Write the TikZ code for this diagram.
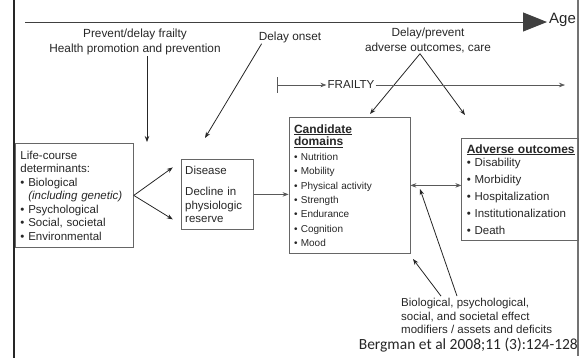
\documentclass[tikz,border=0pt]{standalone}
\usepackage{fontspec}
\setmainfont{Liberation Sans}
\newfontfamily\citefont{Carlito}
\usetikzlibrary{positioning,arrows.meta}

\tikzset{
	box/.style={draw=black!60, line width=0.8pt, anchor=north west, align=left, inner xsep=5pt, inner ysep=3pt, font=\fontsize{11.5}{13.5}\selectfont},
	note/.style={align=center, inner sep=1pt, font=\fontsize{11.8}{15}\selectfont},
	link/.style={->, line width=0.8pt, draw=black!85},
	faint/.style={line width=0.6pt, draw=black!65},
}
\newcommand{\bul}{\textbullet\ }
\newcommand{\boxhead}[1]{{\fontsize{12}{14}\selectfont\bfseries\underline{#1}}}

\begin{document}
\begin{tikzpicture}[x=1pt, y=-1pt, >={Stealth[length=6pt,width=4.5pt]}, text=black!85]
	\useasboundingbox (0,0) rectangle (582,360);
	
	\draw[line width=2.5pt, black!85] (14,0) -- (14,358);
	\draw[line width=1.2pt, black!55] (578,0) -- (578,356);
	
	\node[inner sep=1pt, anchor=west, font=\fontsize{15}{17}\selectfont] (age) at (548,20) {Age};
	\coordinate (axisstart) at (25,22);
	\draw[line width=1pt, black!75, -{Triangle[length=24pt,width=19pt]}, shorten >=1pt] (axisstart) -- (axisstart -| age.west);
	
	\node[note]                               (prevent) at (135,42) {Prevent/delay frailty\\Health promotion and prevention};
	\node[note]                               (onset) at (290,37) {Delay onset};
	\node[note]                               (delayprev) at (428,40) {Delay/prevent\\adverse outcomes, care};
	
	\node[note, font=\fontsize{11.6}{14}\selectfont]                               (frailty) at (351,85) {FRAILTY};
	\coordinate (fstart) at (277,85);
	\coordinate (fend) at (565,85);
	
	\node[box, text width=108pt, minimum height=104pt]                               (life) at (15,143) {Life-course\\determinants:\\\bul Biological\\\phantom{\bul}\textit{(including genetic)}\\\bul Psychological\\\bul Social, societal\\\bul Environmental};
	\node[box, right=47pt of life.north east, anchor=north west, yshift=-16pt, inner xsep=4pt, text width=64pt, minimum height=70pt]                               (disease) {Disease\\[8pt]Decline in\\physiologic\\reserve};
	\node[box, right=35pt of disease.north east, anchor=north west, yshift=42pt, text width=111pt, minimum height=136pt, font=\fontsize{10}{14.3}\selectfont]                               (cand) {\boxhead{Candidate}\\[-1.9pt]\boxhead{domains}\\[0.7pt]\bul Nutrition\\\bul Mobility\\\bul Physical activity\\\bul Strength\\\bul Endurance\\\bul Cognition\\\bul Mood};
	\node[box, right=51pt of cand.north east, anchor=north west, yshift=-21pt, text width=107pt, minimum height=102pt, font=\fontsize{11.5}{17}\selectfont]                               (adverse) {\boxhead{Adverse outcomes}\\[-3.7pt]\bul Disability\\\bul Morbidity\\\bul Hospitalization\\\bul Institutionalization\\\bul Death};
	
	\node[note, align=left, anchor=west, font=\fontsize{11.5}{13.5}\selectfont]                               (modifiers) at (400,316) {Biological, psychological,\\social, and societal effect\\modifiers / assets and deficits};
	\node[anchor=east, inner sep=0pt, font=\citefont\fontsize{15.5}{18}\selectfont]                               (cite) at (578,345) {Bergman et al 2008;11 (3):124-128};
	
	\coordinate (preventend) at (147,142);
	\coordinate (onsetend) at (205,138);
	\coordinate (candtop) at (370,114);
	\coordinate (advtop) at (465,115);
	\coordinate (cornerend) at (413,259);
	\coordinate (pairend) at (420,189);
	
	\draw[link] (preventend |- prevent.south) -- (preventend);
	\draw[link] ([xshift=4pt]onset.south west) -- (onsetend);
	\draw[link] ([xshift=-8pt]delayprev.south) -- (candtop);
	\draw[link] ([xshift=-8pt]delayprev.south) -- (advtop);
	
	\draw[faint] (fstart) ++(0,-8) -- ++(0,16);
	\draw[faint, ->] (fstart) -- (frailty.west);
	\draw[faint, ->] (frailty.east) -- (fend);
	
	\draw[link] (life.east) -- ([shift={(-8pt,27pt)}]disease.west);
	\draw[link] (life.east) -- ([shift={(-8pt,-25pt)}]disease.west);
	\draw[faint, ->] (disease.east) -- (disease.east -| cand.west);
	\draw[faint, <->] (cand.east) -- (cand.east -| adverse.west);
	
	\draw[link] ([xshift=41pt,yshift=1pt]modifiers.north west) -- (cornerend);
	\draw[link] ([xshift=57pt,yshift=1pt]modifiers.north west) -- (pairend);
	
\end{tikzpicture}
\end{document}
